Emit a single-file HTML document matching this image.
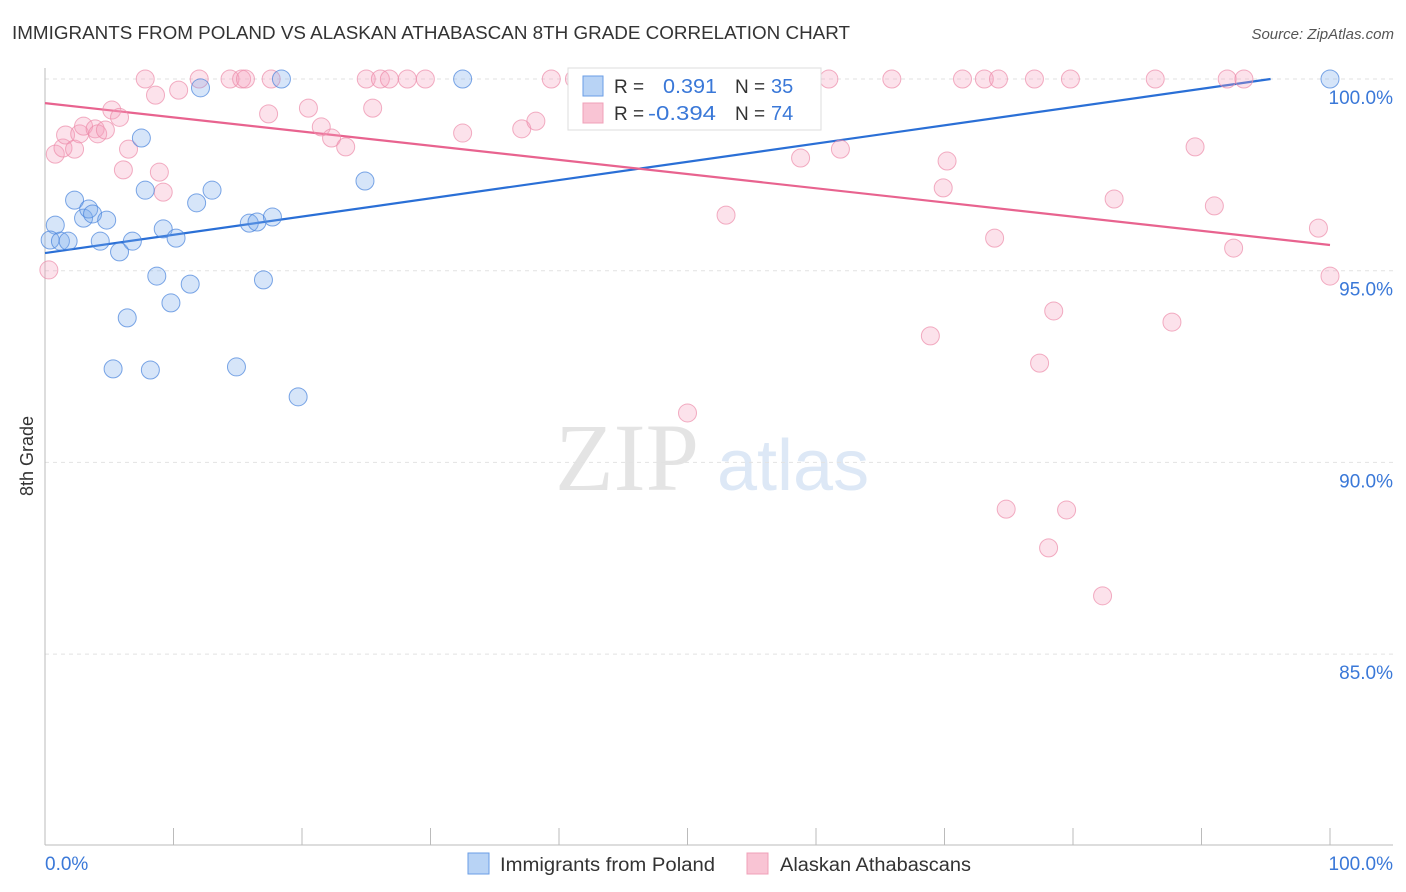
<!DOCTYPE html>
<html><head><meta charset="utf-8"><style>
body{margin:0;background:#fff;font-family:"Liberation Sans",sans-serif;}
svg{display:block}
</style></head><body>
<svg width="1406" height="892" id="chart">
<text x="12" y="39" font-size="18" fill="#333" textLength="838" lengthAdjust="spacingAndGlyphs">IMMIGRANTS FROM POLAND VS ALASKAN ATHABASCAN 8TH GRADE CORRELATION CHART</text>
<text x="1394" y="39" font-size="15" fill="#555" font-style="italic" text-anchor="end">Source: ZipAtlas.com</text>
<g>
<text x="555" y="490" font-size="96" fill="#e4e4e4" font-family="Liberation Serif,serif">ZIP</text>
<text x="717" y="490" font-size="72" fill="#dde8f6">atlas</text>
</g>
<g id="grid"></g>
<g id="axes"></g>
<g id="lines"></g>
<g id="points"></g>
<text x="33" y="456" font-size="18" fill="#333" transform="rotate(-90 33 456)" text-anchor="middle">8th Grade</text>
<g>
<rect x="568" y="68" width="253" height="62" fill="#fff" stroke="#ddd"/>
<rect x="583" y="76" width="20" height="20" fill="#b8d3f5" stroke="#6a9ee6"/>
<rect x="583" y="103" width="20" height="20" fill="#f9c4d4" stroke="#f0a0b8"/>
<text x="614" y="93" font-size="19" fill="#333">R = </text><text x="663" y="93" font-size="20" fill="#3a78d8" textLength="54" lengthAdjust="spacingAndGlyphs">0.391</text>
<text x="735" y="93" font-size="19" fill="#333">N = </text><text x="771" y="93" font-size="20" fill="#3a78d8">35</text>
<text x="614" y="120" font-size="19" fill="#333">R = </text><text x="648" y="120" font-size="20" fill="#3a78d8" textLength="68" lengthAdjust="spacingAndGlyphs">-0.394</text>
<text x="735" y="120" font-size="19" fill="#333">N = </text><text x="771" y="120" font-size="20" fill="#3a78d8">74</text>
</g>
<g>
<rect x="468" y="853" width="21" height="21" fill="#b8d3f5" stroke="#6a9ee6"/>
<text x="500" y="871" font-size="19" fill="#333" textLength="215" lengthAdjust="spacingAndGlyphs">Immigrants from Poland</text>
<rect x="747" y="853" width="21" height="21" fill="#f9c4d4" stroke="#f0a0b8"/>
<text x="780" y="871" font-size="19" fill="#333" textLength="191" lengthAdjust="spacingAndGlyphs">Alaskan Athabascans</text>
</g>
</svg>
<script>
const yTicks=[100,95,90,85];
const yTickLabels=["100.0%","95.0%","90.0%","85.0%"];
const xTicks=[0,10,20,30,40,50,60,70,80,90,100];
const xTickLabels=["0.0%","100.0%"];
const polandX=[0.8,0.4,1.2,1.8,2.3,3.0,3.4,3.7,4.3,4.8,5.8,6.4,5.3,6.8,7.5,7.8,8.2,8.7,9.2,9.8,10.2,11.3,11.8,12.1,13.0,14.9,15.9,16.5,17.0,17.7,18.4,19.7,24.9,32.5,100];
const polandY=[96.19,95.8,95.77,95.77,96.84,96.37,96.61,96.48,95.77,96.32,95.49,93.77,92.44,95.77,98.46,97.1,92.41,94.86,96.09,94.16,95.85,94.65,96.77,99.77,97.1,92.49,96.24,96.27,94.76,96.4,100,91.71,97.34,100,100];
const athX=[7.8,12.0,14.4,15.3,15.6,17.6,25.0,26.1,26.8,28.2,29.6,39.4,41.2,50.4,53.9,59.7,61.0,65.9,71.4,73.1,74.2,77.0,79.8,86.4,92.0,93.3,
8.6,10.4,0.3,0.8,1.4,1.6,2.3,2.7,3.0,3.9,4.1,4.7,5.2,5.8,6.1,6.5,8.9,9.2,17.4,20.5,21.5,22.3,23.4,25.5,32.5,37.1,38.2,50.0,53.0,58.8,61.9,68.9,69.9,70.2,73.9,74.8,77.4,78.1,78.5,79.5,82.3,83.2,87.7,89.5,91.0,92.5,99.1,100];
const athY=[100,100,100,100,100,100,100,100,100,100,100,100,100,100,100,100,100,100,100,100,100,100,100,100,100,100,
99.58,99.71,95.02,98.04,98.2,98.54,98.17,98.57,98.77,98.7,98.57,98.67,99.19,99.0,97.63,98.17,97.57,97.05,99.09,99.24,98.75,98.46,98.23,99.24,98.59,98.7,98.9,91.29,96.45,97.94,98.17,93.3,97.16,97.86,95.85,88.78,92.59,87.77,93.95,88.76,86.52,96.87,93.66,98.23,96.69,95.59,96.11,94.86];
const polandTrend=[95.46,0.0476];
const athTrend=[99.37,-0.037];
const NS="http://www.w3.org/2000/svg";
const xs=v=>45+v*12.85;
const ys=v=>79+(100-v)*38.34;
function mk(t,a,p){const e=document.createElementNS(NS,t);for(const k in a)e.setAttribute(k,a[k]);document.getElementById(p).appendChild(e);return e;}
yTicks.forEach((t,i)=>{
 const g=mk('line',{x1:45,x2:1393,y1:ys(t),y2:ys(t),stroke:'#e2e2e2','stroke-dasharray':'4,4'},'grid');
 
 
 const l=mk('text',{x:1393,y:ys(t)+25,'font-size':19,fill:'#3a78d8','text-anchor':'end'},'axes');
 l.textContent=yTickLabels[i];
 
 
});
const ya=mk('line',{x1:45,x2:45,y1:68,y2:845,stroke:'#bbb'},'axes');


const xa=mk('line',{x1:45,x2:1393,y1:845,y2:845,stroke:'#bbb'},'axes');


xTicks.forEach(t=>{
 const k=mk('line',{x1:xs(t),x2:xs(t),y1:828,y2:845,stroke:'#bbb'},'axes');
 
 
});
const xl0=mk('text',{x:45,y:870,'font-size':19,fill:'#3a78d8'},'axes');
xl0.textContent=xTickLabels[0];


const xl1=mk('text',{x:1393,y:870,'font-size':19,fill:'#3a78d8','text-anchor':'end'},'axes');
xl1.textContent=xTickLabels[1];


function trend(tr,color,name){
 let x2=100,y2=tr[0]+tr[1]*100;
 if(y2>100){x2=(100-tr[0])/tr[1];y2=100;}
 const l=mk('line',{x1:xs(0),y1:ys(tr[0]),x2:xs(x2),y2:ys(y2),stroke:color,'stroke-width':2.2},'lines');
 
 
}
athX.forEach((x,i)=>{
 const c=mk('circle',{cx:xs(x),cy:ys(athY[i]),r:9,fill:'rgba(244,160,188,0.3)',stroke:'rgba(236,140,170,0.7)'},'points');
 
 
});
polandX.forEach((x,i)=>{
 const c=mk('circle',{cx:xs(x),cy:ys(polandY[i]),r:9,fill:'rgba(120,170,235,0.3)',stroke:'rgba(70,130,220,0.7)'},'points');
 
 
});
trend(polandTrend,'#2a6fd6','poland-trend-line');
trend(athTrend,'#e8638f','athabascan-trend-line');
</script>
</body></html>
